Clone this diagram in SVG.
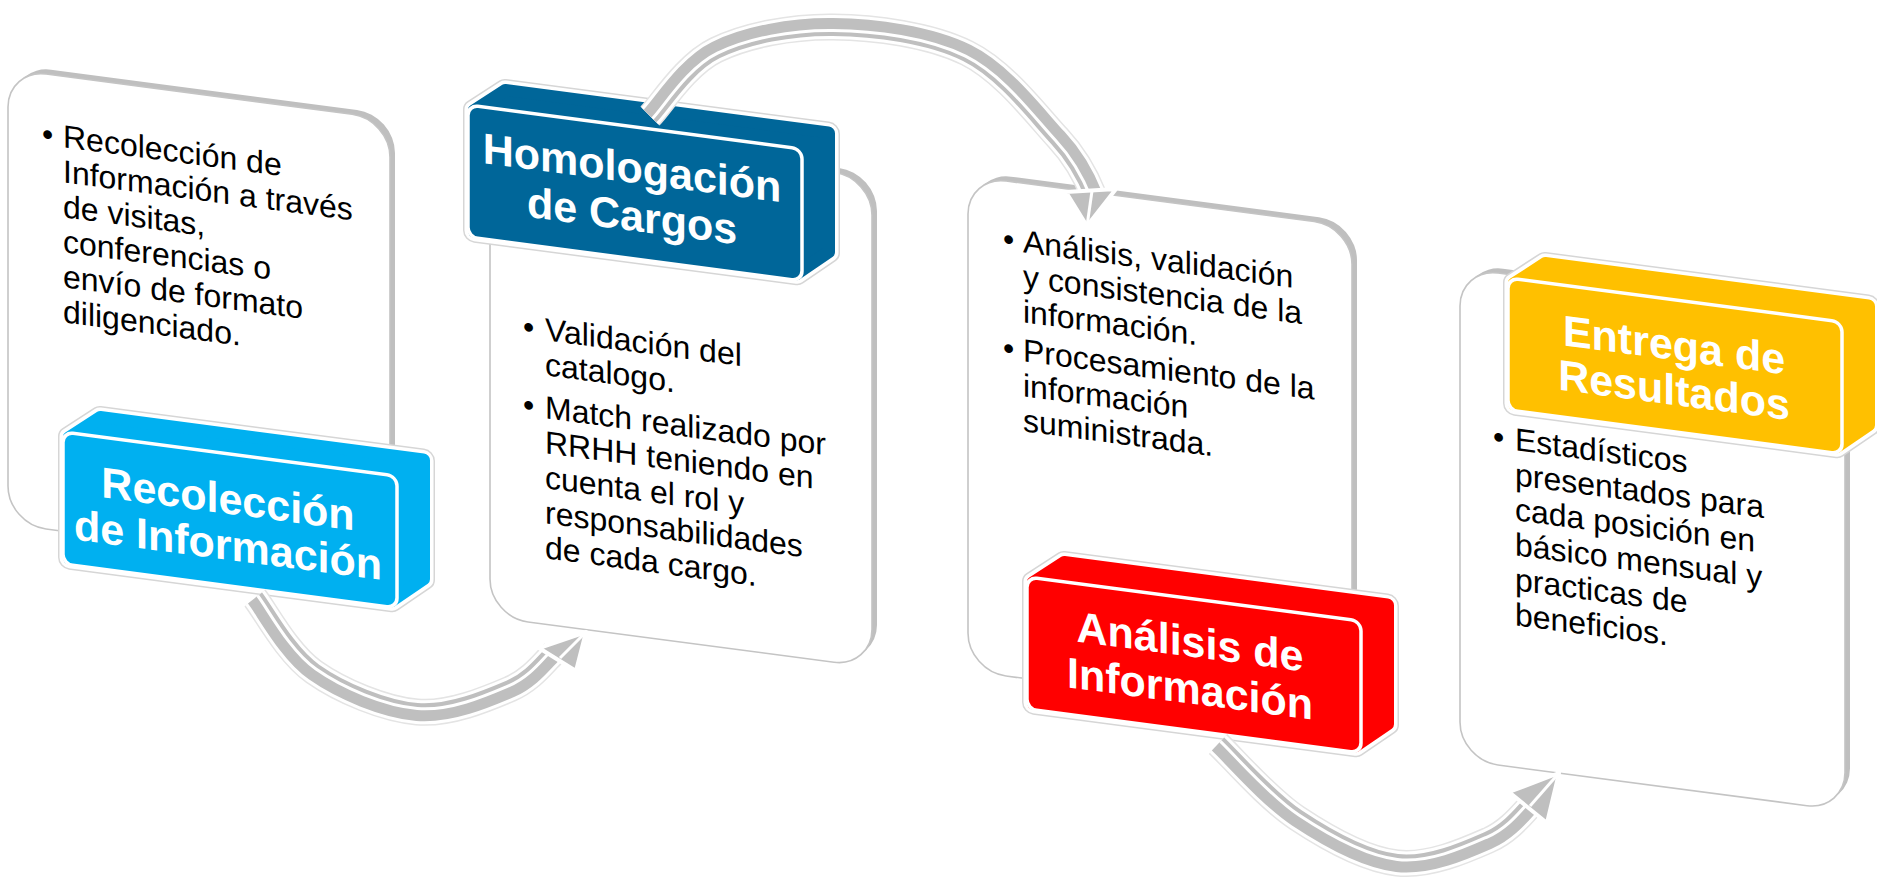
<svg xmlns="http://www.w3.org/2000/svg" width="1877" height="881" viewBox="0 0 1877 881">
<defs>
<style>
.card-shadow{fill:#bfbfbf}
.card{fill:#fff;stroke:#c4c4c4;stroke-width:1.6}
.body{font-family:"Liberation Sans",Arial,sans-serif;font-size:32px;fill:#000}
.title{font-family:"Liberation Sans",Arial,sans-serif;font-size:43px;font-weight:bold;fill:#fff;text-anchor:middle}
.ring{fill:#d6d6d6;stroke:#d6d6d6;stroke-width:22;stroke-linejoin:round}
.halo{fill:#fff;stroke:#fff;stroke-width:19;stroke-linejoin:round}
.face{stroke:#fff;stroke-width:3.5}
.band-edge{fill:none;stroke:#e4e4e4;stroke-width:27}
.band-halo{fill:none;stroke:#fff;stroke-width:24}
.band{fill:none;stroke:#bfbfbf;stroke-width:18}
.band-split{fill:none;stroke:#fff;stroke-width:3}
.head{fill:#bfbfbf;stroke:#fff;stroke-width:4;stroke-linejoin:round}
.head-line{fill:none;stroke:#fff;stroke-width:3}
</style>
</defs>
<rect width="1877" height="881" fill="#fff"/>

<g id="card-1" transform="translate(8,69) skewY(7.5)">
  <rect class="card-shadow" x="5" y="-5" width="382" height="455" rx="38"/>
  <rect class="card" x="0" y="0" width="382" height="455" rx="38"/>
  <text class="body" x="34" y="71">•</text>
  <text class="body"><tspan x="55" y="71">Recolección de</tspan><tspan x="55" dy="35">Información a través</tspan><tspan x="55" dy="35">de visitas,</tspan><tspan x="55" dy="35">conferencias o</tspan><tspan x="55" dy="35">envío de formato</tspan><tspan x="55" dy="35">diligenciado.</tspan></text>
</g>

<g id="card-2" transform="translate(490,127) skewY(7.5)">
  <rect class="card-shadow" x="5" y="-5" width="382" height="490" rx="38"/>
  <rect class="card" x="0" y="0" width="382" height="490" rx="38"/>
  <text class="body" x="33" y="206">•</text>
  <text class="body" x="33" y="284">•</text>
  <text class="body"><tspan x="55" y="206">Validación del</tspan><tspan x="55" dy="35">catalogo.</tspan><tspan x="55" dy="43">Match realizado por</tspan><tspan x="55" dy="35">RRHH teniendo en</tspan><tspan x="55" dy="35">cuenta el rol y</tspan><tspan x="55" dy="35">responsabilidades</tspan><tspan x="55" dy="35">de cada cargo.</tspan></text>
</g>

<g id="card-3" transform="translate(968,176) skewY(7.5)">
  <rect class="card-shadow" x="5" y="-5" width="384" height="495" rx="38"/>
  <rect class="card" x="0" y="0" width="384" height="495" rx="38"/>
  <text class="body" x="35" y="69">•</text>
  <text class="body" x="35" y="178">•</text>
  <text class="body"><tspan x="55" y="69">Análisis, validación</tspan><tspan x="55" dy="35">y consistencia de la</tspan><tspan x="55" dy="35">información.</tspan><tspan x="55" dy="39">Procesamiento de la</tspan><tspan x="55" dy="35">información</tspan><tspan x="55" dy="35">suministrada.</tspan></text>
</g>

<g id="card-4" transform="translate(1460,268) skewY(7.5)">
  <rect class="card-shadow" x="5" y="-5" width="385" height="492" rx="38"/>
  <rect class="card" x="0" y="0" width="385" height="492" rx="38"/>
  <text class="body" x="33" y="175">•</text>
  <text class="body"><tspan x="55" y="175">Estadísticos</tspan><tspan x="55" dy="35">presentados para</tspan><tspan x="55" dy="35">cada posición en</tspan><tspan x="55" dy="35">básico mensual y</tspan><tspan x="55" dy="35">practicas de</tspan><tspan x="55" dy="35">beneficios.</tspan></text>
</g>

<g id="label-1" transform="translate(63,432) skewY(7.5)">
  <polygon class="ring" points="6,5 38,-20 361,-20 361,99 328,126 6,126"/>
  <polygon class="halo" points="6,5 38,-20 361,-20 361,99 328,126 6,126"/>
  <polygon points="6,5 38,-20 361,-20 361,99 328,126 6,126" fill="#00B0F0" stroke="#00B0F0" stroke-width="12" stroke-linejoin="round"/>
  <rect class="face" x="0" y="0" width="334" height="132" rx="10" fill="#00B0F0"/>
  <text class="title"><tspan x="165" y="60">Recolección</tspan><tspan x="165" y="106">de Información</tspan></text>
</g>

<g id="label-2" transform="translate(468,105) skewY(7.5)">
  <polygon class="ring" points="6,5 38,-20 361,-20 361,99 328,126 6,126"/>
  <polygon class="halo" points="6,5 38,-20 361,-20 361,99 328,126 6,126"/>
  <polygon points="6,5 38,-20 361,-20 361,99 328,126 6,126" fill="#006699" stroke="#006699" stroke-width="12" stroke-linejoin="round"/>
  <rect class="face" x="0" y="0" width="334" height="132" rx="10" fill="#006699"/>
  <text class="title"><tspan x="164" y="56">Homologación</tspan><tspan x="164" y="104">de Cargos</tspan></text>
</g>

<g id="label-3" transform="translate(1027,577) skewY(7.5)">
  <polygon class="ring" points="6,5 38,-20 361,-20 361,99 328,126 6,126"/>
  <polygon class="halo" points="6,5 38,-20 361,-20 361,99 328,126 6,126"/>
  <polygon points="6,5 38,-20 361,-20 361,99 328,126 6,126" fill="#FF0000" stroke="#FF0000" stroke-width="12" stroke-linejoin="round"/>
  <rect class="face" x="0" y="0" width="334" height="132" rx="10" fill="#FF0000"/>
  <text class="title"><tspan x="163" y="58">Análisis de</tspan><tspan x="163" y="105">Información</tspan></text>
</g>

<g id="label-4" transform="translate(1508,278) skewY(7.5)">
  <polygon class="ring" points="6,5 38,-20 361,-20 361,99 328,126 6,126"/>
  <polygon class="halo" points="6,5 38,-20 361,-20 361,99 328,126 6,126"/>
  <polygon points="6,5 38,-20 361,-20 361,99 328,126 6,126" fill="#FFC000" stroke="#FFC000" stroke-width="12" stroke-linejoin="round"/>
  <rect class="face" x="0" y="0" width="334" height="132" rx="10" fill="#FFC000"/>
  <text class="title"><tspan x="166" y="60">Entrega de</tspan><tspan x="166" y="105">Resultados</tspan></text>
</g>

<g id="connectors">
  <g id="arrow-1">
    <path class="band-edge" d="M255,598 C264.8,610.3 287,653 314,672 C341,691 384.3,709.2 417,712 C449.7,714.8 487.3,698.7 510,689 C532.7,679.3 545.8,659.8 553,654"/>
    <path class="band-halo" d="M255,598 C264.8,610.3 287,653 314,672 C341,691 384.3,709.2 417,712 C449.7,714.8 487.3,698.7 510,689 C532.7,679.3 545.8,659.8 553,654"/>
    <path class="band" d="M255,598 C264.8,610.3 287,653 314,672 C341,691 384.3,709.2 417,712 C449.7,714.8 487.3,698.7 510,689 C532.7,679.3 545.8,659.8 553,654"/>
    <path class="band-split" d="M257.7,595.8 C267.5,608.1 289,650.1 316,669.1 C343,688.1 384.6,705.7 417.3,708.5 C450,711.3 485.9,695.5 508.6,685.8 C531.3,676.1 543.6,657.1 550.8,651.3"/>
    <polygon class="head" points="586,632 539,648 576,671"/>
    <path class="head-line" d="M586,632 L560,658"/>
  </g>
  <g id="arrow-2">
    <path class="band-edge" d="M650,116 C661,105 685.5,64.8 716,50 C746.5,35.2 791.2,26.5 833,27 C874.8,27.5 929.5,34.5 967,53 C1004.5,71.5 1036.7,115.2 1058,138 C1079.3,160.8 1088.8,183 1094,196"/>
    <path class="band-halo" d="M650,116 C661,105 685.5,64.8 716,50 C746.5,35.2 791.2,26.5 833,27 C874.8,27.5 929.5,34.5 967,53 C1004.5,71.5 1036.7,115.2 1058,138 C1079.3,160.8 1088.8,183 1094,196"/>
    <path class="band" d="M650,116 C661,105 685.5,64.8 716,50 C746.5,35.2 791.2,26.5 833,27 C874.8,27.5 929.5,34.5 967,53 C1004.5,71.5 1036.7,115.2 1058,138 C1079.3,160.8 1088.8,183 1094,196"/>
    <path class="band-split" d="M652.5,118.5 C663.5,107.5 687,68 717.5,53.2 C748,38.4 791.2,30 833,30.5 C874.8,31 928,37.7 965.5,56.2 C1003,74.7 1034.1,117.5 1055.4,140.3 C1076.7,163.1 1085.8,184.9 1091,197.9"/>
    <polygon class="head" points="1087,226 1066,192 1116,189"/>
    <path class="head-line" d="M1087,226 L1092,191"/>
  </g>
  <g id="arrow-3">
    <path class="band-edge" d="M1218,744 C1231.2,756.3 1267.2,798.2 1297,818 C1326.8,837.8 1365,859.3 1397,863 C1429,866.7 1466.3,850 1489,840 C1511.7,830 1525.7,809.2 1533,803"/>
    <path class="band-halo" d="M1218,744 C1231.2,756.3 1267.2,798.2 1297,818 C1326.8,837.8 1365,859.3 1397,863 C1429,866.7 1466.3,850 1489,840 C1511.7,830 1525.7,809.2 1533,803"/>
    <path class="band" d="M1218,744 C1231.2,756.3 1267.2,798.2 1297,818 C1326.8,837.8 1365,859.3 1397,863 C1429,866.7 1466.3,850 1489,840 C1511.7,830 1525.7,809.2 1533,803"/>
    <path class="band-split" d="M1220.4,741.4 C1233.6,753.7 1269.1,795.3 1298.9,815.1 C1328.7,834.9 1365.4,855.8 1397.4,859.5 C1429.4,863.2 1464.9,846.8 1487.6,836.8 C1510.3,826.8 1523.5,806.5 1530.8,800.3"/>
    <polygon class="head" points="1559,773 1509,792 1547,823"/>
    <path class="head-line" d="M1559,773 L1530,806"/>
  </g>
</g>
</svg>
